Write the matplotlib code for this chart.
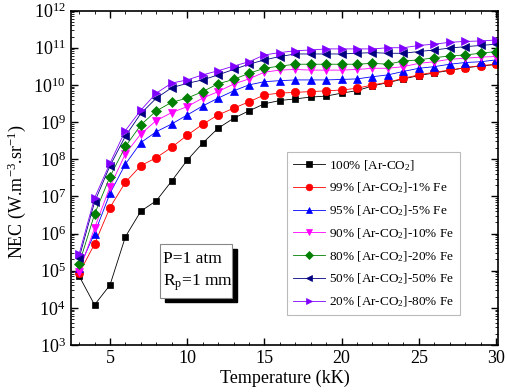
"""
NEC versus temperature for Ar-CO2 / Fe mixtures, log scale.
"""

import matplotlib
matplotlib.use("Agg")
import matplotlib.pyplot as plt
from matplotlib.patches import Rectangle
from matplotlib.ticker import LogLocator, MultipleLocator, NullFormatter

plt.rcParams["font.family"] = ["Liberation Serif", "DejaVu Serif"]
plt.rcParams["mathtext.fontset"] = "custom"
plt.rcParams["mathtext.rm"] = "Liberation Serif"
plt.rcParams["mathtext.it"] = "Liberation Serif:italic"
plt.rcParams["mathtext.default"] = "regular"

temperature = list(range(3, 31))

nec_100 = [7.2e4, 1.2e4, 4.1e4, 8.2e5, 4.0e6, 7.6e6, 2.6e7, 9.4e7, 2.7e8, 6.8e8,
           1.26e9, 2.0e9, 3.1e9, 3.8e9, 4.2e9, 4.7e9, 5.0e9, 6.0e9, 7.0e9, 9.4e9,
           1.15e10, 1.45e10, 1.78e10, 2.1e10, 2.45e10, 2.9e10, 3.2e10, 3.55e10]
nec_1fe = [8.5e4, 5.2e5, 5.0e6, 2.4e7, 6.7e7, 1.1e8, 2.1e8, 4.4e8, 8.7e8, 1.55e9,
           2.35e9, 3.5e9, 5.4e9, 6.0e9, 6.3e9, 6.6e9, 6.9e9, 7.3e9, 8.1e9, 1.0e10,
           1.18e10, 1.51e10, 1.86e10, 2.2e10, 2.5e10, 2.9e10, 3.3e10, 3.6e10]
nec_5fe = [1.2e5, 1.0e6, 1.2e7, 7.4e7, 2.8e8, 5.5e8, 8.9e8, 1.55e9, 2.7e9, 4.4e9,
           6.9e9, 1.0e10, 1.22e10, 1.3e10, 1.36e10, 1.36e10, 1.36e10, 1.4e10, 1.45e10, 1.66e10,
           1.86e10, 2.3e10, 2.8e10, 3.1e10, 3.6e10, 4.0e10, 4.2e10, 4.7e10]
nec_10fe = [9.2e4, 1.4e6, 1.8e7, 1.4e8, 4.8e8, 1.1e9, 1.8e9, 2.6e9, 4.4e9, 6.6e9,
            1.05e10, 1.45e10, 2.2e10, 2.5e10, 2.6e10, 2.5e10, 2.5e10, 2.5e10, 2.6e10, 2.8e10,
            2.8e10, 3.1e10, 3.8e10, 4.2e10, 4.9e10, 5.2e10, 5.6e10, 5.8e10]
nec_20fe = [1.5e5, 3.3e6, 3.4e7, 2.2e8, 8.4e8, 2.0e9, 3.4e9, 4.4e9, 6.6e9, 1.07e10,
            1.4e10, 2.05e10, 2.8e10, 3.2e10, 3.6e10, 3.6e10, 3.6e10, 3.6e10, 3.6e10, 3.8e10,
            3.6e10, 4.4e10, 4.7e10, 5.4e10, 6.0e10, 6.4e10, 7.1e10, 7.9e10]
nec_50fe = [2.2e5, 7.0e6, 6.6e7, 4.2e8, 1.7e9, 4.4e9, 8.4e9, 1.1e10, 1.36e10, 1.86e10,
            2.6e10, 3.6e10, 4.7e10, 5.8e10, 6.8e10, 6.8e10, 6.8e10, 6.8e10, 7.1e10, 7.4e10,
            7.1e10, 7.1e10, 7.9e10, 8.7e10, 9.8e10, 1.07e11, 1.15e11, 1.25e11]
nec_80fe = [2.8e5, 9.0e6, 7.8e7, 5.9e8, 2.1e9, 6.0e9, 1.12e10, 1.36e10, 1.86e10, 2.4e10,
            3.2e10, 4.2e10, 6.4e10, 7.4e10, 8.3e10, 8.7e10, 9.3e10, 9.3e10, 9.3e10, 9.3e10,
            1.0e11, 1.0e11, 1.15e11, 1.25e11, 1.4e11, 1.48e11, 1.52e11, 1.62e11]

labels = [
    "100% [Ar-CO$_2$]",
    "99% [Ar-CO$_2$]-1% Fe",
    "95% [Ar-CO$_2$]-5% Fe",
    "90% [Ar-CO$_2$]-10% Fe",
    "80% [Ar-CO$_2$]-20% Fe",
    "50% [Ar-CO$_2$]-50% Fe",
    "20% [Ar-CO$_2$]-80% Fe",
]
series = [nec_100, nec_1fe, nec_5fe, nec_10fe, nec_20fe, nec_50fe, nec_80fe]
colors = ["black", "red", "blue", "magenta", "#008000", "#000080", "#8000ff"]
markers = ["s", "o", "^", "v", "D", "<", ">"]
sizes = [5, 6, 6, 6, 5, 6, 6]

y_decades = [10.0 ** k for k in range(3, 13)]

fig = plt.figure(figsize=(5.08, 3.92), dpi=100)
ax = fig.add_axes([0.139, 0.120, 0.842, 0.853])

for vals, lab, col, mk, ms in zip(series, labels, colors, markers, sizes):
    ax.plot(temperature, vals, color=col, marker=mk, markersize=ms,
            linewidth=0.6, label=lab, markeredgewidth=0.5)

ax.set_yscale("log")
ax.set_xlim(2.45, 30.15)
ax.set_ylim(1e3, 1e12)
ax.set_xticks([5, 10, 15, 20, 25, 30])
ax.xaxis.set_minor_locator(MultipleLocator(1))
ax.set_yticks(y_decades)
ax.yaxis.set_minor_locator(LogLocator(base=10, subs=range(2, 10), numticks=100))
ax.yaxis.set_minor_formatter(NullFormatter())
ax.set_ylim(1e3, 1e12)
ax.tick_params(which="both", direction="in", top=True, right=True, labelsize=13)
ax.tick_params(which="major", length=5, width=1)
ax.tick_params(which="minor", length=2.5, width=0.6)
for sp in ax.spines.values():
    sp.set_linewidth(1.2)

ax.set_xlabel("Temperature (kK)", fontsize=13, labelpad=2)
ax.set_ylabel("NEC (W.m$^{-3}$.sr$^{-1}$)", fontsize=13)
ax.yaxis.set_label_coords(-0.10, 0.46)

leg = ax.legend(loc="upper left", bbox_to_anchor=(0.506, 0.577), borderaxespad=0,
                fontsize=9.5, frameon=True, fancybox=False, edgecolor="#aaaaaa",
                handlelength=2.4, handletextpad=0.3, labelspacing=0.62,
                borderpad=0.45, markerscale=0.8)
leg.get_frame().set_linewidth(0.8)

# annotation box with a black drop shadow
bx0, by0, bw, bh = 0.209, 0.141, 0.168, 0.161
ax.add_patch(Rectangle((bx0 + 0.011, by0 - 0.014), bw, bh, transform=ax.transAxes,
                       facecolor="black", edgecolor="black", zorder=5))
ax.add_patch(Rectangle((bx0, by0), bw, bh, transform=ax.transAxes,
                       facecolor="white", edgecolor="#888888", linewidth=0.8, zorder=6))
ax.text(0.216, 0.245, "P=1 atm", transform=ax.transAxes, fontsize=12.5,
        va="baseline", ha="left", zorder=7)
ax.text(0.216, 0.179, "R$_p$=1 mm", transform=ax.transAxes, fontsize=12.5,
        va="baseline", ha="left", zorder=7)

fig.savefig("out.png", dpi=100)
